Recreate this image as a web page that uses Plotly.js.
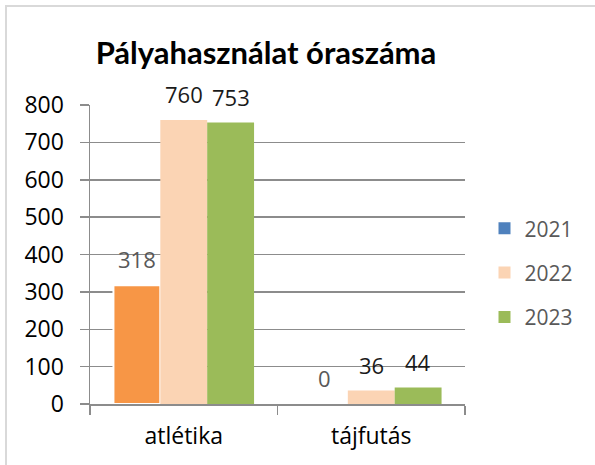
<!DOCTYPE html>
<html>
<head>
<meta charset="utf-8">
<script src="https://cdn.plot.ly/plotly-3.0.1.min.js"></script>
<style>
  html, body { margin: 0; padding: 0; background: #fff; }
  #wrap { position: relative; width: 595px; height: 465px; }
  #chart { width: 595px; height: 465px; }
  #frame { position: absolute; left: 5px; top: 5px; width: 600px; height: 470px;
           border-top: 2px solid #D9D9D9; border-left: 2px solid #D9D9D9; pointer-events: none; }
</style>
</head>
<body>
<div id="wrap">
  <div id="chart"></div>
  <div id="frame"></div>
</div>
<script>
// ---- data ----
const categories = ['atlétika', 'tájfutás'];
const seriesNames = ['2021', '2022', '2023'];
const values2021 = [318, 0];
const values2022 = [760, 36];
const values2023 = [753, 44];
const chartTitle = 'Pályahasználat óraszáma';

// ---- styles ----
const FONT = '"Open Sans", "Noto Sans", sans-serif';
const TITLE_FONT = 'Lato, "Open Sans", sans-serif';
const GRID = '#8C8C8C';
const legendColors = ['#4F81BD', '#FBD4B4', '#9BBB59'];
const pointColors2021 = ['#F79646', '#4F81BD'];
const pointLine2021 = [2, 0];
const labelColors = ['#595959', '#1A1A1A', '#1A1A1A'];

const allValues = [values2021, values2022, values2023];

const traces = [
  {
    type: 'bar', name: seriesNames[0], x: categories, y: values2021,
    offsetgroup: 'a', showlegend: false, hoverinfo: 'none',
    marker: { color: pointColors2021, line: { color: '#FFFFFF', width: pointLine2021 } }
  },
  {
    type: 'bar', name: seriesNames[0], x: categories, y: categories.map(() => null),
    offsetgroup: 'a', legendgroup: 'g1', showlegend: true, hoverinfo: 'none',
    marker: { color: legendColors[0], line: { width: 0 } }
  },
  {
    type: 'bar', name: seriesNames[1], x: categories, y: values2022,
    offsetgroup: 'b', legendgroup: 'g2', hoverinfo: 'none',
    marker: { color: legendColors[1], line: { width: 0 } }
  },
  {
    type: 'bar', name: seriesNames[2], x: categories, y: values2023,
    offsetgroup: 'c', legendgroup: 'g3', hoverinfo: 'none',
    marker: { color: legendColors[2], line: { width: 0 } }
  }
];

const margin = { l: 90, r: 130, t: 105, b: 61 };
const plotW = 595 - margin.l - margin.r;
const bargap = 0.25;
const slot = plotW / categories.length * (1 - bargap) / seriesNames.length;

const annotations = [];
allValues.forEach((vals, si) => {
  vals.forEach((v, ci) => {
    annotations.push({
      x: categories[ci], y: v, xref: 'x', yref: 'y',
      text: String(v), showarrow: false,
      xshift: (si - (seriesNames.length - 1) / 2) * slot,
      yshift: 26, yanchor: 'middle',
      font: { family: FONT, size: 22, color: labelColors[si] }
    });
  });
});

const layout = {
  width: 595, height: 465,
  paper_bgcolor: '#FFFFFF', plot_bgcolor: '#FFFFFF',
  margin: margin,
  font: { family: FONT, color: '#000000' },
  title: {
    text: '<b>' + chartTitle + '</b>',
    font: { family: TITLE_FONT, size: 31, color: '#000000' },
    x: 266 / 595, xanchor: 'center', xref: 'container',
    y: 1 - 53 / 465, yanchor: 'middle', yref: 'container'
  },
  barmode: 'group', bargap: bargap, bargroupgap: 0,
  xaxis: {
    type: 'category', tickson: 'boundaries', ticks: 'outside', ticklen: 9,
    tickcolor: GRID, tickwidth: 1.5, showline: true, linecolor: GRID, linewidth: 1.5,
    showgrid: false, tickfont: { family: FONT, size: 23, color: '#000000' },
    ticklabelstandoff: 11, fixedrange: true
  },
  yaxis: {
    range: [0, 800], dtick: 100, tick0: 0, ticks: 'outside', ticklen: 9,
    tickcolor: GRID, tickwidth: 1.5, showline: true, linecolor: GRID, linewidth: 1.5,
    showgrid: true, gridcolor: GRID, gridwidth: 1.5, zeroline: false,
    tickfont: { family: FONT, size: 23, color: '#000000' },
    ticklabelstandoff: 11, fixedrange: true
  },
  legend: {
    x: 1.052, xanchor: 'left', y: 0.655, yanchor: 'top',
    font: { family: FONT, size: 21, color: '#595959' },
    tracegroupgap: 14, bgcolor: 'rgba(0,0,0,0)'
  },
  annotations: annotations,
  showlegend: true
};

Plotly.newPlot('chart', traces, layout, { displayModeBar: false, staticPlot: true });
</script>
</body>
</html>
